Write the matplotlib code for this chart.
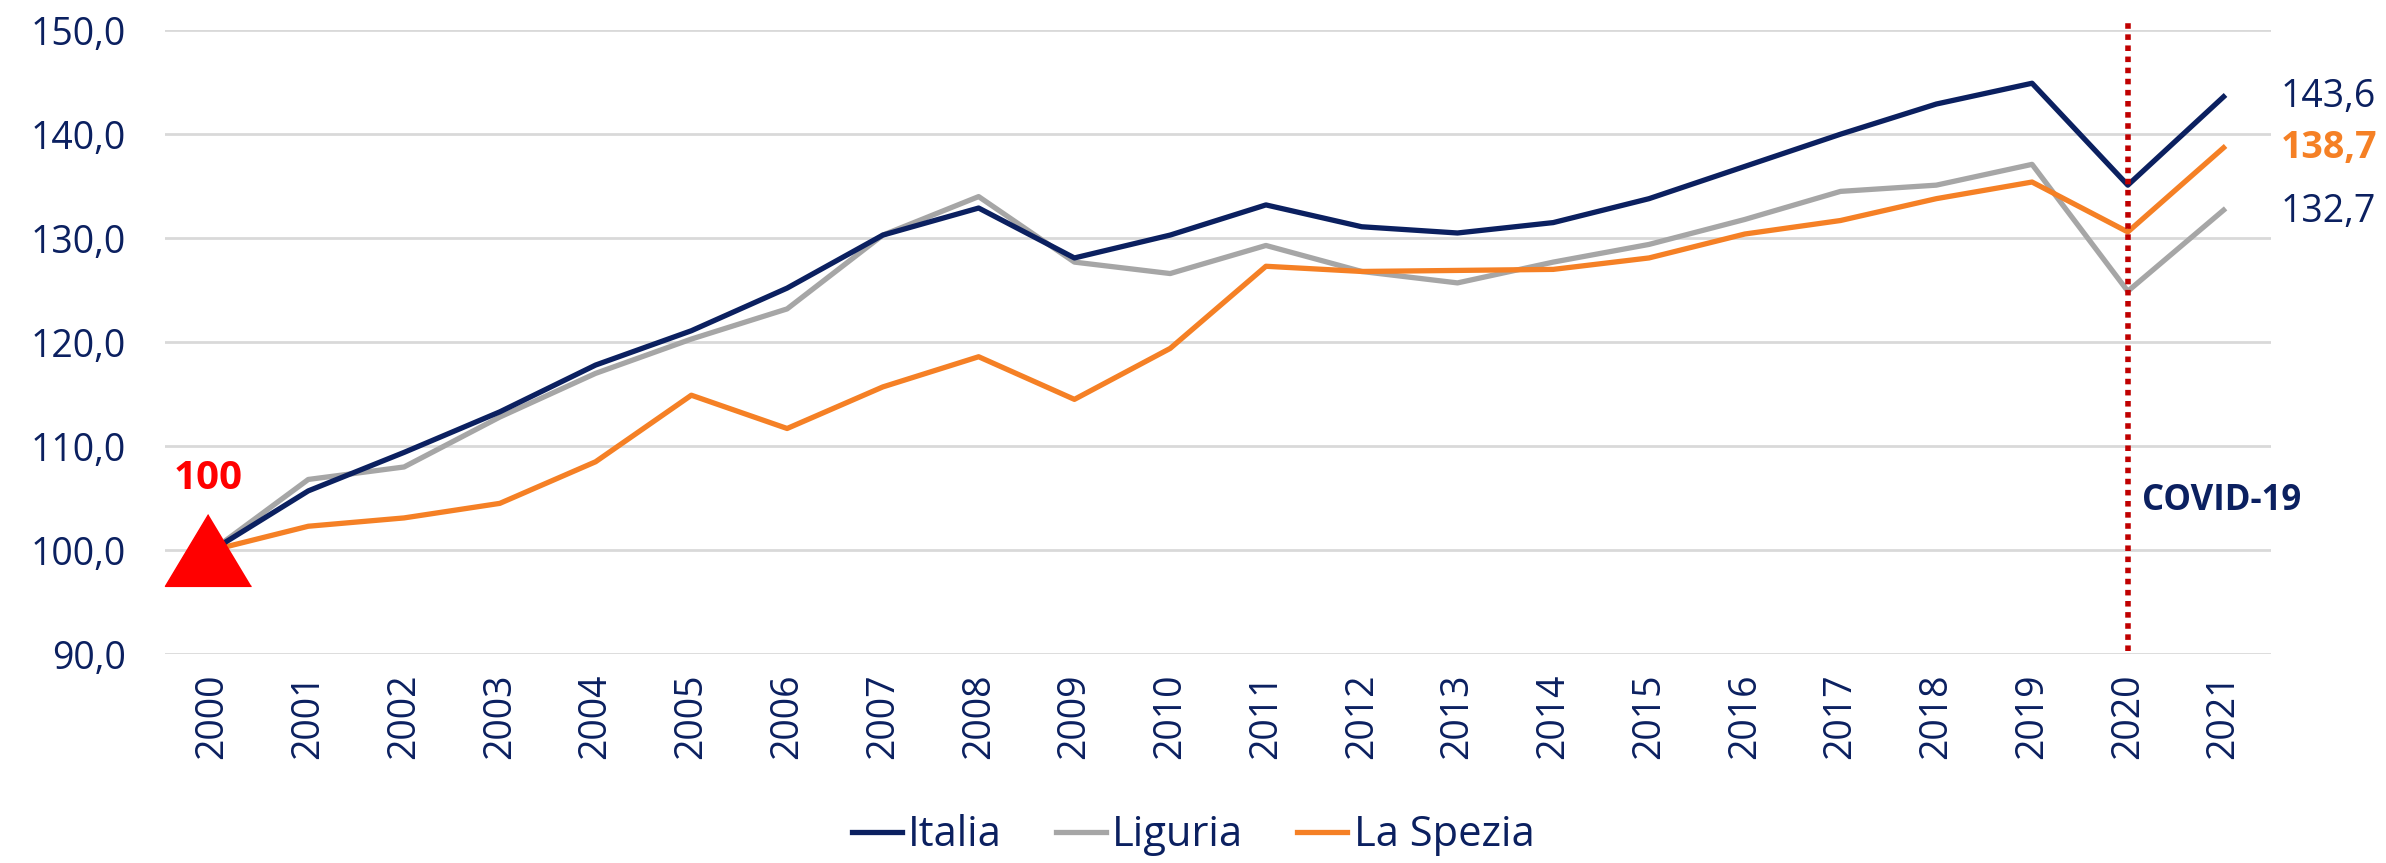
import matplotlib
matplotlib.use("Agg")
import matplotlib.pyplot as plt

# dati (indice 2000 = 100)
anni = [str(a) for a in range(2000, 2022)]
italia = [100.0, 105.7, 109.4, 113.3, 117.8, 121.1, 125.2, 130.3, 132.9, 128.1,
          130.3, 133.2, 131.1, 130.5, 131.5, 133.8, 136.9, 140.0, 142.9, 144.9,
          135.1, 143.6]
liguria = [100.0, 106.8, 108.0, 112.8, 117.0, 120.3, 123.2, 130.3, 134.0, 127.7,
           126.6, 129.3, 126.8, 125.7, 127.7, 129.4, 131.8, 134.5, 135.1, 137.1,
           124.9, 132.7]
la_spezia = [100.0, 102.3, 103.1, 104.5, 108.5, 114.9, 111.7, 115.7, 118.6, 114.5,
             119.4, 127.3, 126.8, 126.9, 127.0, 128.1, 130.4, 131.7, 133.8, 135.4,
             130.6, 138.7]
etichette_finali = ["143,6", "138,7", "132,7"]

NAVY = "#0B2060"
GRIGIO = "#A6A6A6"
ARANCIO = "#F58025"
ROSSO = "#C00000"

plt.rcParams['font.family'] = ['Open Sans', 'DejaVu Sans']

fig = plt.figure(figsize=(23.86, 8.63), dpi=100)
ax = fig.add_axes([0.069, 0.242, 0.883, 0.723])

x = list(range(len(anni)))
ax.plot(x, italia, color=NAVY, lw=3.8, label="Italia", zorder=4)
ax.plot(x, liguria, color=GRIGIO, lw=3.8, label="Liguria", zorder=3)
ax.plot(x, la_spezia, color=ARANCIO, lw=3.8, label="La Spezia", zorder=3.5)

# triangolo rosso sul punto base
ax.plot([-0.05], [100], marker=[(0, 1), (-1.2, -1), (1.2, -1)], markersize=62,
        color="#FF0000", zorder=6, clip_on=False, linestyle="none")
ax.text(-0.05, 106.9, "100", color="#FF0000", fontsize=29, fontweight="bold",
        ha="center", va="center", zorder=6)

# linea covid
ax.plot([20, 20], [90.3, 151.0], color=ROSSO, lw=4, linestyle=(0, (1, 1)),
        clip_on=False, zorder=5)
ax.text(20.15, 104.7, "COVID-19", color=NAVY, fontsize=25, fontweight="bold",
        ha="left", va="center")

# etichette finali
ax.text(21.6, italia[-1], etichette_finali[0], color=NAVY, fontsize=27, va="center")
ax.text(21.6, la_spezia[-1], etichette_finali[1], color=ARANCIO, fontsize=27,
        fontweight="bold", va="center")
ax.text(21.6, liguria[-1] - 0.2, etichette_finali[2], color=NAVY, fontsize=27, va="center")

ax.set_xlim(-0.5, 21.5)
ax.set_ylim(90, 150)
ax.set_yticks(range(90, 151, 10))
ax.set_yticklabels([f"{v},0" for v in range(90, 151, 10)])
ax.set_xticks(x)
ax.set_xticklabels(anni, rotation=90)
ax.tick_params(axis="both", length=0, labelsize=27, labelcolor=NAVY)
ax.tick_params(axis="y", pad=28)
ax.tick_params(axis="x", pad=14)
ax.grid(axis="y", color="#D9D9D9", lw=2)
ax.set_axisbelow(True)
for s in ax.spines.values():
    s.set_visible(False)

fig.legend(loc="center", bbox_to_anchor=(0.5, 0.032), ncol=3, frameon=False,
           fontsize=30, labelcolor=NAVY, handlelength=1.2, handletextpad=0.15,
           columnspacing=1.3)

fig.savefig("out.png", dpi=100)
